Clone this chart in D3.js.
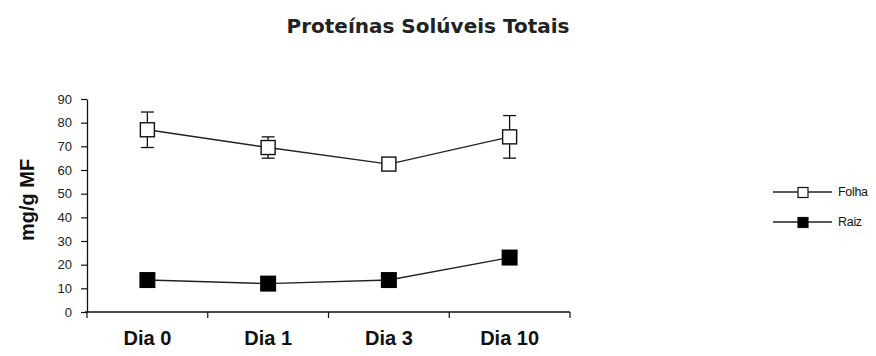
<!DOCTYPE html>
<html>
<head>
<meta charset="utf-8">
<script src="https://cdn.jsdelivr.net/npm/d3@7"></script>
<style>
  body { margin: 0; background: #fff; }
  text { fill: #111; }
</style>
</head>
<body>
<script>
// chart values
var days = ['Dia 0', 'Dia 1', 'Dia 3', 'Dia 10'];
var folha = [77, 69.5, 62.5, 74];
var folhaErr = [7.5, 4.5, 1.5, 9];
var raiz = [13.5, 12, 13.5, 23];
var yTicks = [0, 10, 20, 30, 40, 50, 60, 70, 80, 90];

var width = 876, height = 356;
var margin = { left: 87, right: 306, top: 99, bottom: 44 };

var svg = d3.select('body').append('svg')
    .attr('width', width)
    .attr('height', height);

var x = d3.scaleBand().domain(days).range([margin.left, width - margin.right]);
var y = d3.scaleLinear().domain([0, 90]).range([height - margin.bottom, margin.top]);

// title
svg.append('text')
    .attr('x', 428).attr('y', 33)
    .attr('text-anchor', 'middle')
    .style('font-family', 'DejaVu Sans')
    .style('font-weight', 'bold')
    .style('font-size', '20px')
    .style('fill', '#222')
    .text('Proteínas Solúveis Totais');

// y axis
var yAxis = svg.append('g')
    .attr('transform', 'translate(' + margin.left + ',0)')
    .call(d3.axisLeft(y).tickValues(yTicks).tickSize(6).tickSizeOuter(0));
yAxis.select('.domain').attr('stroke', '#111').attr('stroke-width', 1.3);
yAxis.selectAll('.tick line').attr('stroke', '#111').attr('stroke-width', 1.2);
yAxis.selectAll('.tick text')
    .attr('x', -15)
    .style('font-family', 'Liberation Sans, Arial')
    .style('font-size', '13px')
    .style('fill', '#222');

svg.append('text')
    .attr('transform', 'translate(34,' + 200 + ') rotate(-90)')
    .attr('text-anchor', 'middle')
    .style('font-family', 'Liberation Sans, Arial')
    .style('font-weight', 'bold')
    .style('font-size', '20px')
    .text('mg/g MF');

// x axis: ticks on band edges
var xAxisY = y(0);
svg.append('line')
    .attr('x1', margin.left - 2).attr('x2', width - margin.right)
    .attr('y1', xAxisY).attr('y2', xAxisY)
    .attr('stroke', '#111').attr('stroke-width', 1.3);
var edges = days.map(function (d) { return x(d); }).concat([x(days[days.length - 1]) + x.bandwidth()]);
svg.selectAll('.xtick').data(edges).enter().append('line')
    .attr('x1', function (d) { return d; }).attr('x2', function (d) { return d; })
    .attr('y1', xAxisY).attr('y2', xAxisY + 6)
    .attr('stroke', '#111').attr('stroke-width', 1.2);
svg.selectAll('.xlabel').data(days).enter().append('text')
    .attr('x', function (d) { return x(d) + x.bandwidth() / 2; })
    .attr('y', 345)
    .attr('text-anchor', 'middle')
    .style('font-family', 'Liberation Sans, Arial')
    .style('font-weight', 'bold')
    .style('font-size', '20px')
    .text(function (d) { return d; });

var cx = function (d, i) { return x(days[i]) + x.bandwidth() / 2; };
var line = d3.line()
    .x(function (d, i) { return cx(d, i); })
    .y(function (d) { return y(d); });

// error bars (Folha)
var eb = svg.selectAll('.err').data(folha).enter().append('g');
eb.append('line')
    .attr('x1', cx).attr('x2', cx)
    .attr('y1', function (d, i) { return y(d + folhaErr[i]); })
    .attr('y2', function (d, i) { return y(d - folhaErr[i]); })
    .attr('stroke', '#111').attr('stroke-width', 1.3);
eb.append('line')
    .attr('x1', function (d, i) { return cx(d, i) - 6.5; })
    .attr('x2', function (d, i) { return cx(d, i) + 6.5; })
    .attr('y1', function (d, i) { return y(d + folhaErr[i]); })
    .attr('y2', function (d, i) { return y(d + folhaErr[i]); })
    .attr('stroke', '#111').attr('stroke-width', 1.3);
eb.append('line')
    .attr('x1', function (d, i) { return cx(d, i) - 6.5; })
    .attr('x2', function (d, i) { return cx(d, i) + 6.5; })
    .attr('y1', function (d, i) { return y(d - folhaErr[i]); })
    .attr('y2', function (d, i) { return y(d - folhaErr[i]); })
    .attr('stroke', '#111').attr('stroke-width', 1.3);

// lines
svg.append('path').datum(folha).attr('d', line)
    .attr('fill', 'none').attr('stroke', '#222').attr('stroke-width', 1.4);
svg.append('path').datum(raiz).attr('d', line)
    .attr('fill', 'none').attr('stroke', '#222').attr('stroke-width', 1.4);

// markers
var ms = 14;
svg.selectAll('.mf').data(folha).enter().append('rect')
    .attr('x', function (d, i) { return cx(d, i) - ms / 2; })
    .attr('y', function (d) { return y(d) - ms / 2; })
    .attr('width', ms).attr('height', ms)
    .attr('fill', '#fff').attr('stroke', '#111').attr('stroke-width', 1.4);
svg.selectAll('.mr').data(raiz).enter().append('rect')
    .attr('x', function (d, i) { return cx(d, i) - 8; })
    .attr('y', function (d) { return y(d) - 8; })
    .attr('width', 16).attr('height', 16)
    .attr('fill', '#000');

// legend
var legend = [
  { name: 'Folha', fill: '#fff', y: 192 },
  { name: 'Raiz', fill: '#000', y: 222 }
];
var lg = svg.selectAll('.lg').data(legend).enter().append('g')
    .attr('transform', function (d) { return 'translate(773,' + d.y + ')'; });
lg.append('line').attr('x1', 0).attr('x2', 59).attr('y1', 0).attr('y2', 0)
    .attr('stroke', '#222').attr('stroke-width', 1.3);
lg.append('rect').attr('x', 25).attr('y', -4.5).attr('width', 10).attr('height', 10)
    .attr('fill', function (d) { return d.fill; })
    .attr('stroke', '#111').attr('stroke-width', 1.2);
lg.append('text').attr('x', 65).attr('y', 4)
    .style('font-family', 'Liberation Sans, Arial')
    .style('font-size', '12.5px')
    .style('letter-spacing', '-0.3px')
    .text(function (d) { return d.name; });
</script>
</body>
</html>
